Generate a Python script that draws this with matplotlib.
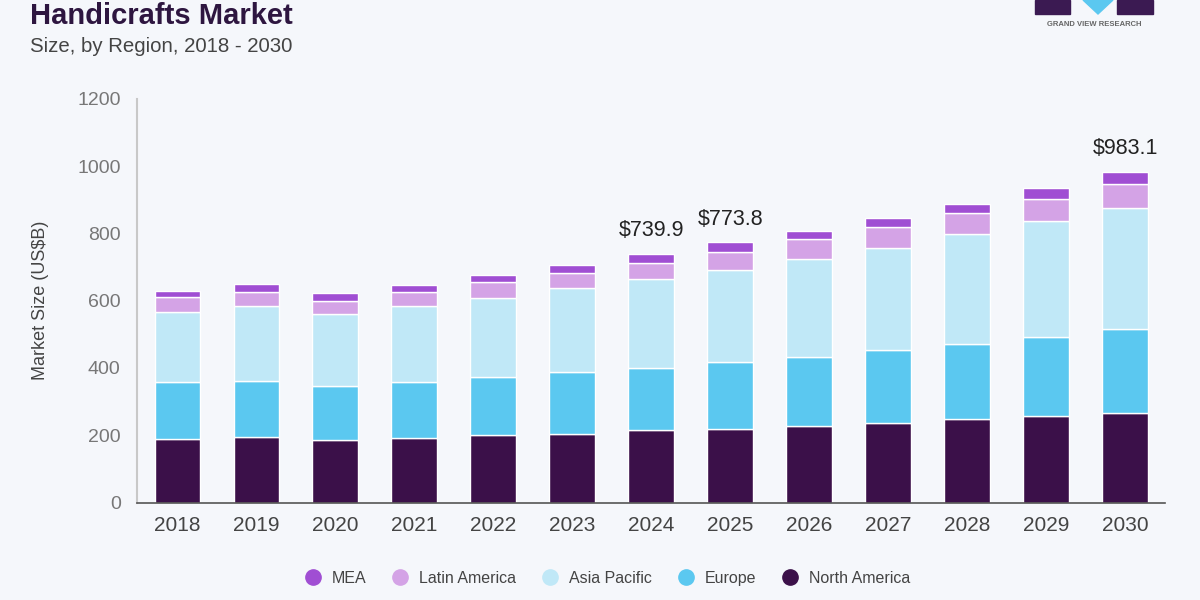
import matplotlib
matplotlib.use("Agg")
import matplotlib.pyplot as plt
from matplotlib.lines import Line2D
from matplotlib.patches import Rectangle, Polygon
import numpy as np

plt.rcParams['font.family'] = ['Liberation Sans', 'DejaVu Sans']

years = ["2018", "2019", "2020", "2021", "2022", "2023", "2024",
         "2025", "2026", "2027", "2028", "2029", "2030"]
north_america = [190, 194, 185, 191, 200, 204, 215, 219, 228, 237, 247, 257, 267]
europe = [168, 167, 161, 168, 174, 183, 186, 200, 206, 216, 225, 236, 248]
asia_pacific = [208, 224, 214, 226, 234, 251, 264, 272, 289, 305, 326, 344, 362]
latin_america = [44, 42, 40, 41, 47, 45, 48, 55, 60, 62, 64, 65, 70]
mea = [18, 24, 22, 22, 21, 24, 26.9, 27.8, 24, 26, 27, 33, 36.1]
annotated = {"2024": "$739.9", "2025": "$773.8", "2030": "$983.1"}

series = [
    ("North America", north_america, "#3b1049"),
    ("Europe", europe, "#5bc8f0"),
    ("Asia Pacific", asia_pacific, "#c0e8f7"),
    ("Latin America", latin_america, "#d4a3e6"),
    ("MEA", mea, "#a04ed3"),
]

bg = "#f5f7fb"
fig = plt.figure(figsize=(12, 6), dpi=100, facecolor=bg)
ax = fig.add_axes([0.1145, 0.1625, 0.8565, 0.6725], facecolor=bg)

x = np.arange(len(years))
bottom = np.zeros(len(years))
for name, vals, col in series:
    v = np.array(vals, dtype=float)
    ax.bar(x, v, bottom=bottom, width=0.58, color=col, edgecolor="white",
           linewidth=1.0, label=name, zorder=2)
    bottom += v

for i, y in enumerate(years):
    if y in annotated:
        ax.text(x[i], bottom[i] + 38, annotated[y], ha="center", va="bottom",
                fontsize=15.5, color="#222222")

ax.set_xlim(-0.507, 12.507)
ax.set_ylim(0, 1200)
ax.set_yticks([0, 200, 400, 600, 800, 1000, 1200])
ax.set_xticks(x)
ax.set_xticklabels(years)
ax.tick_params(axis="y", length=0, pad=12, labelsize=14, labelcolor="#777777")
ax.tick_params(axis="x", length=0, pad=10, labelsize=15, labelcolor="#444444")
for s in ["top", "right"]:
    ax.spines[s].set_visible(False)
ax.spines["left"].set_color("#c8c8c8")
ax.spines["left"].set_linewidth(1.5)
ax.spines["bottom"].set_color("#555555")
ax.spines["bottom"].set_linewidth(1.2)
ax.set_ylabel("Market Size (US$B)", fontsize=13, color="#444444", labelpad=20)

# Title and subtitle
fig.text(0.025, 0.997, "Handicrafts Market", fontsize=21, fontweight="bold",
         color="#2e1640", ha="left", va="top")
fig.text(0.025, 0.923, "Size, by Region, 2018 - 2030", fontsize=14.7,
         color="#444444", ha="left", va="center")

# Logo (approximate)
def fx(px):
    return px / 1200.0

def fy(py):
    return 1 - py / 600.0

fig.add_artist(Rectangle((fx(1035), fy(14)), fx(35), 14 / 600.0,
                         transform=fig.transFigure, color="#3b1a52"))
fig.add_artist(Polygon([(fx(1083), fy(0)), (fx(1113), fy(0)), (fx(1098), fy(14))],
                       closed=True, transform=fig.transFigure, color="#5bc8f0"))
fig.add_artist(Rectangle((fx(1117), fy(14)), fx(36), 14 / 600.0,
                         transform=fig.transFigure, color="#3b1a52"))
fig.text(fx(1094), fy(24), "GRAND VIEW RESEARCH", fontsize=5.5, fontweight="bold",
         color="#666666", ha="center", va="center")

# Legend
legend_order = ["MEA", "Latin America", "Asia Pacific", "Europe", "North America"]
colors = {name: col for name, _, col in series}
handles = [Line2D([0], [0], marker="o", linestyle="", markersize=11,
                  markerfacecolor=colors[n], markeredgecolor=colors[n]) for n in legend_order]
fig.legend(handles, legend_order, loc="center", bbox_to_anchor=(0.503, 0.036),
           ncol=5, frameon=False, fontsize=11.5, labelcolor="#444444",
           handletextpad=0.2, columnspacing=1.1)

fig.savefig("out.png", dpi=100, facecolor=bg)
